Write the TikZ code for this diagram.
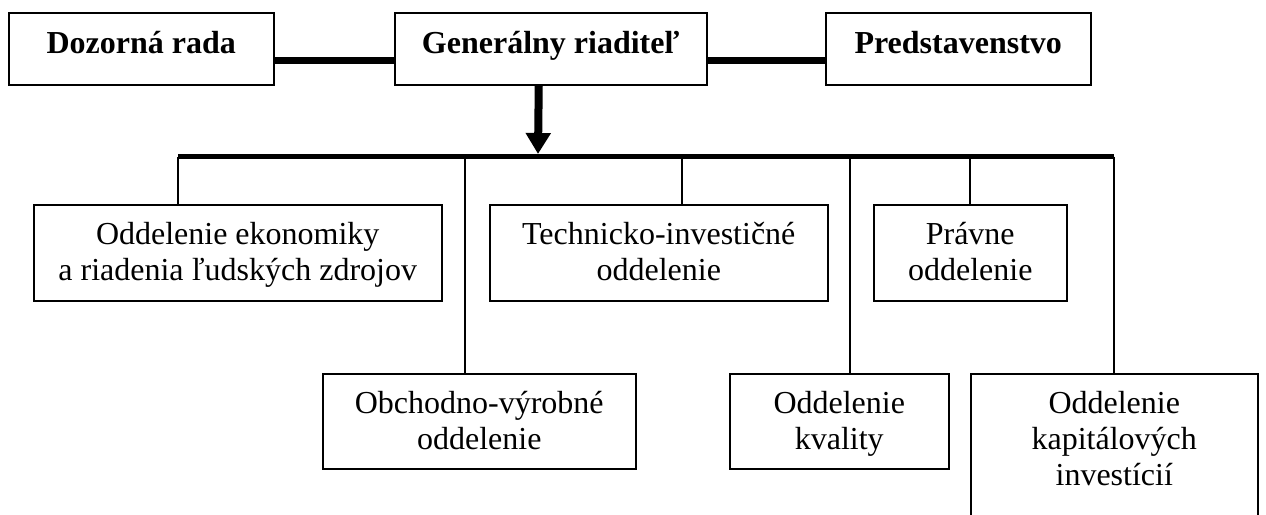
\documentclass[tikz,border=0pt]{standalone}
\usepackage{fontspec}
\setmainfont{Liberation Serif}
\usetikzlibrary{arrows.meta}

\begin{document}
\begin{tikzpicture}[x=1pt,y=-1pt,
  orgbox/.style={draw, line width=1.5pt, inner sep=0pt, anchor=north west},
  headtext/.style={inner sep=0pt, anchor=base, font=\bfseries\fontsize{32}{36}\selectfont},
  depttext/.style={inner sep=0pt, anchor=north, align=center, font=\fontsize{32}{36}\selectfont},
  link/.style={line width=7pt},
  bus/.style={line width=5pt},
  drop/.style={line width=1.5pt},
  mainarrow/.style={line width=8pt, -{Triangle[width=24pt,length=21pt]}}]

\useasboundingbox (0,0) rectangle (1266,514);
\clip (0,0) rectangle (1266,514);

% top management
\node[orgbox, minimum width=265pt, minimum height=72pt] (dozor) at (8,12) {};
\node[orgbox, minimum width=312pt, minimum height=72pt] (gen) at (394,12) {};
\node[orgbox, minimum width=265pt, minimum height=72pt] (pred) at (825,12) {};
\node[headtext] (dozorT) at ([yshift=-41pt]dozor.north) {Dozorná rada};
\node[headtext] (genT) at ([yshift=-41pt]gen.north) {Generálny riaditeľ};
\node[headtext] (predT) at ([yshift=-41pt]pred.north) {Predstavenstvo};

\draw[link] ([yshift=-12pt]dozor.east) -- ([yshift=-12pt]gen.west);
\draw[link] ([yshift=-12pt]gen.east) -- ([yshift=-12pt]pred.west);

% departments, first row
\node[orgbox, minimum width=408pt, minimum height=96pt] (ekon) at (33,204) {};
\node[orgbox, minimum width=338pt, minimum height=96pt] (tech) at (489,204) {};
\node[orgbox, minimum width=193pt, minimum height=96pt] (prav) at (873,204) {};
% departments, second row
\node[orgbox, minimum width=313pt, minimum height=95pt] (obch) at (322,373) {};
\node[orgbox, minimum width=219pt, minimum height=95pt] (kval) at (729,373) {};
\node[orgbox, minimum width=287pt, minimum height=170pt] (kap) at (970,373) {};

\node[depttext] (ekonT) at ([yshift=-18pt]ekon.north) {Oddelenie ekonomiky\\a riadenia ľudských zdrojov};
\node[depttext] (techT) at ([yshift=-18pt]tech.north) {Technicko-investičné\\oddelenie};
\node[depttext] (pravT) at ([yshift=-18pt]prav.north) {Právne\\oddelenie};
\node[depttext] (obchT) at ([yshift=-18pt]obch.north) {Obchodno-výrobné\\oddelenie};
\node[depttext] (kvalT) at ([yshift=-18pt]kval.north) {Oddelenie\\kvality};
\node[depttext] (kapT) at ([yshift=-18pt]kap.north) {Oddelenie\\kapitálových\\investícií};

% distribution bus and its branch points
\coordinate (b1) at (178,156.5);
\coordinate (b2) at (465,156.5);
\coordinate (hub) at (538,156.5);
\coordinate (b3) at (682,156.5);
\coordinate (b4) at (850,156.5);
\coordinate (b5) at (970,156.5);
\coordinate (b6) at (1114,156.5);

\draw[bus] (b1) -- (b6);
\draw[mainarrow] ([xshift=-12pt]gen.south) -- ([yshift=2.5pt]hub);

\draw[drop] (b1) -- (b1 |- ekon.north);
\draw[drop] (b2) -- (b2 |- obch.north);
\draw[drop] (b3) -- (b3 |- tech.north);
\draw[drop] (b4) -- (b4 |- kval.north);
\draw[drop] (b5) -- (b5 |- prav.north);
\draw[drop] (b6) -- (b6 |- kap.north);
\end{tikzpicture}
\end{document}
